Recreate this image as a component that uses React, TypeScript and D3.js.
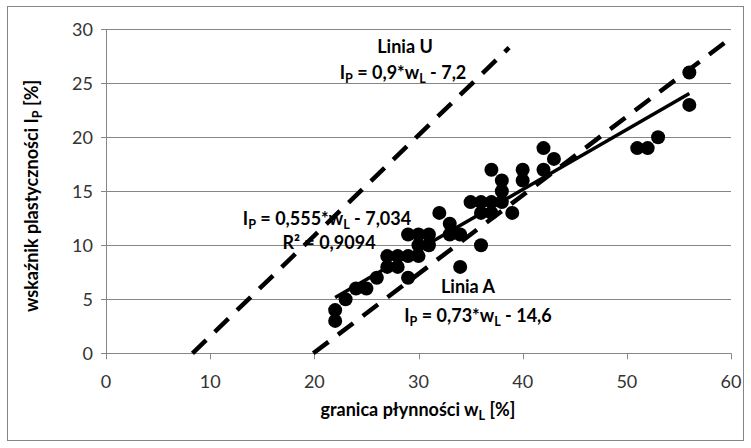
import React from "react";
import * as d3 from "d3";

const wL = [22,22,23,24,25,26,27,27,28,28,29,29,29,30,30,30,31,31,32,33,33,34,34,35,36,36,36,37,37,37,38,38,38,39,40,40,42,42,43,51,52,53,56,56];
const IP = [4,3,5,6,6,7,8,9,8,9,7,9,11,9,10,11,10,11,13,11,12,8,11,14,10,13,14,13,14,17,14,15,16,13,16,17,17,19,18,19,19,20,26,23];

const xTicks = [0,10,20,30,40,50,60];
const yTicks = [0,5,10,15,20,25,30];

// line endpoints
const lineU = [{x:8.3,y:0},{x:38.7,y:28.3}];
const lineA = [{x:19.9,y:0},{x:60,y:29.2}];
const trendX = [22,56];
const trendSlope = 0.555, trendIntercept = -7.034;

const W = 751, H = 448;
const FONT = "Lato, 'Open Sans', sans-serif";
const GRID = "#868686";

export default function App() {
  const x = d3.scaleLinear().domain([0,60]).range([106,731]);
  const y = d3.scaleLinear().domain([0,30]).range([353.3,29.3]);
  const line = d3.line<{x:number,y:number}>().x(d=>x(d.x)).y(d=>y(d.y));
  const trend = trendX.map(v=>({x:v,y:trendSlope*v+trendIntercept}));

  const sub = (t: string) => (
    <tspan dy={4} fontSize="70%">{t}</tspan>
  );

  return (
    <div style={{position:"absolute",left:0,top:0}}>
      <svg width={W} height={H} style={{display:"block",background:"#fff"}}>
        <rect x={7.5} y={6.5} width={736} height={434} fill="#fff" stroke={GRID} strokeWidth={1}/>
        {yTicks.map(t=>(
          <g key={"y"+t}>
            <line x1={101} x2={x(60)} y1={Math.round(y(t))+0.5} y2={Math.round(y(t))+0.5} stroke={GRID} strokeWidth={1}/>
            <text x={93} y={y(t)} dy="0.36em" textAnchor="end" fontFamily={FONT} fontSize={18} fill="#333">{t}</text>
          </g>
        ))}
        <line x1={Math.round(x(0))+0.5} x2={Math.round(x(0))+0.5} y1={y(30)} y2={y(0)} stroke={GRID}/>
        {xTicks.map(t=>(
          <g key={"x"+t}>
            <line x1={Math.round(x(t))+0.5} x2={Math.round(x(t))+0.5} y1={y(0)} y2={y(0)+6} stroke={GRID}/>
            <text x={x(t)} y={388} textAnchor="middle" fontFamily={FONT} fontSize={18} fill="#333">{t}</text>
          </g>
        ))}
        <path d={line(lineU)!} stroke="#000" strokeWidth={4.5} fill="none" strokeDasharray="19,12"/>
        <path d={line(lineA)!} stroke="#000" strokeWidth={4.5} fill="none" strokeDasharray="19,12"/>
        {wL.map((v,i)=>(
          <circle key={i} cx={x(v)} cy={y(IP[i])} r={7} fill="#000"/>
        ))}
        <path d={line(trend)!} stroke="#000" strokeWidth={3.5} fill="none"/>

        <g fontFamily={FONT} fontWeight="bold" fontSize={18} fill="#000" textAnchor="middle">
          <text x={405} y={53}>Linia U</text>
          <text x={403} y={79}>I{sub("P")}<tspan dy={-4}> = 0,9*w</tspan>{sub("L")}<tspan dy={-4}> - 7,2</tspan></text>
          <text x={327} y={225}>I{sub("P")}<tspan dy={-4}> = 0,555*w</tspan>{sub("L")}<tspan dy={-4}> - 7,034</tspan></text>
          <text x={329} y={249}>R² = 0,9094</text>
          <text x={468} y={293}>Linia A</text>
          <text x={478} y={322}>I{sub("P")}<tspan dy={-4}> = 0,73*w</tspan>{sub("L")}<tspan dy={-4}> - 14,6</tspan></text>
          <text x={418} y={416}>granica płynności w{sub("L")}<tspan dy={-4}> [%]</tspan></text>
          <text transform="translate(38,196) rotate(-90)">wskaźnik plastyczności I{sub("P")}<tspan dy={-4}> [%]</tspan></text>
        </g>
      </svg>
    </div>
  );
}
